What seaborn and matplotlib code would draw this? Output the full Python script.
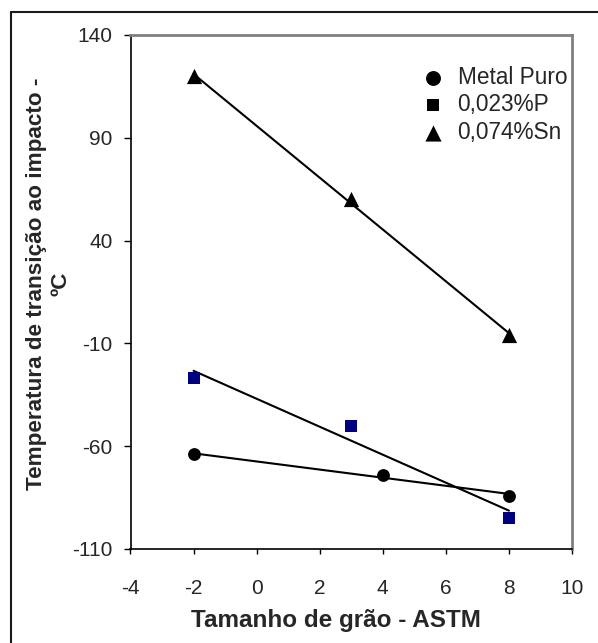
import matplotlib
matplotlib.use("Agg")
import matplotlib.pyplot as plt
import seaborn as sns
import pandas as pd
from matplotlib.lines import Line2D

sns.set_theme(style="white")
plt.rcParams['font.family'] = ['Liberation Sans', 'DejaVu Sans']
plt.rcParams['axes.unicode_minus'] = False

series_names = ["Metal Puro", "0,023%P", "0,074%Sn"]
x_metal = [-2, 4, 8]
y_metal = [-64, -74, -84]
x_p = [-2, 3, 8]
y_p = [-27, -50, -95]
x_sn = [-2, 3, 8]
y_sn = [120, 60, -6]
x_ticks = [-4, -2, 0, 2, 4, 6, 8, 10]
y_ticks = [-110, -60, -10, 40, 90, 140]

markers = {"Metal Puro": "o", "0,023%P": "s", "0,074%Sn": "^"}
colors = {"Metal Puro": "#000000", "0,023%P": "#000080", "0,074%Sn": "#000000"}
sizes = {"Metal Puro": 85, "0,023%P": 75, "0,074%Sn": 120}
legend_sizes = [115, 85, 135]

df = pd.concat([
    pd.DataFrame({"x": x_metal, "y": y_metal, "s": series_names[0]}),
    pd.DataFrame({"x": x_p, "y": y_p, "s": series_names[1]}),
    pd.DataFrame({"x": x_sn, "y": y_sn, "s": series_names[2]}),
])

fig = plt.figure(figsize=(5.98, 6.43), dpi=100)
ax = fig.add_axes([130.5/598, 1 - 549/643, (572-130.5)/598, (549-35)/643])

for name in series_names:
    sub = df[df["s"] == name]
    sns.regplot(data=sub, x="x", y="y", ax=ax, ci=None, scatter=False,
                truncate=True, line_kws=dict(color="black", lw=1.5, zorder=2))
for name in series_names:
    sub = df[df["s"] == name]
    sns.scatterplot(data=sub, x="x", y="y", ax=ax, marker=markers[name],
                    color=colors[name], s=sizes[name], edgecolor=colors[name],
                    linewidth=0, label=name, zorder=3)

ax.set_xlim(-4, 10)
ax.set_ylim(-110, 140)
ax.set_xticks(x_ticks)
ax.set_yticks(y_ticks)
ax.tick_params(axis="both", direction="out", width=1, color="black",
               labelsize=15, bottom=True, left=True)
ax.tick_params(axis="x", length=3.6, pad=18)
ax.tick_params(axis="y", length=5.4, pad=7.6)
for side in ["left", "bottom"]:
    ax.spines[side].set_color("#000000")
    ax.spines[side].set_linewidth(1.2)
for side in ["top", "right"]:
    ax.spines[side].set_color("#808080")
    ax.spines[side].set_linewidth(2)

ax.set_xlabel("Tamanho de grão - ASTM", fontsize=17.5, fontweight="bold", labelpad=8)
ax.xaxis.label.set_x(0.465)
ax.set_ylabel("Temperatura de transição ao impacto -\nºC", fontsize=16.2,
              fontweight="bold", linespacing=1.22)
ax.yaxis.set_label_coords(-0.133, 0.516)

leg = ax.legend(loc="upper right", bbox_to_anchor=(0.994, 0.945), frameon=False,
                fontsize=16.3, handletextpad=0.5, borderaxespad=0.0,
                labelspacing=0.2, handlelength=1.2, borderpad=0.1)
for h, sz in zip(leg.legend_handles, legend_sizes):
    h.set_sizes([sz])
    h.set_facecolor("#000000")
    h.set_edgecolor("#000000")

fig.add_artist(Line2D([10.5/598, 10.5/598], [0, 1 - 11.5/643], transform=fig.transFigure,
                      color="#1a1a1a", lw=1.5))
fig.add_artist(Line2D([10.5/598, 1], [1 - 11.5/643, 1 - 11.5/643], transform=fig.transFigure,
                      color="#1a1a1a", lw=1.5))

fig.savefig("out.png", dpi=100)
